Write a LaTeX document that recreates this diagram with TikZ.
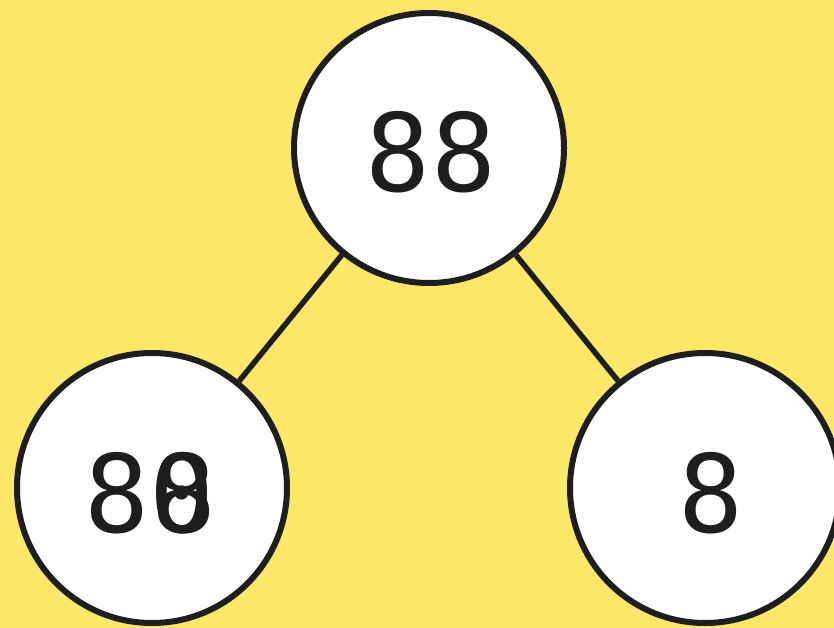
\documentclass[tikz,border=0pt]{standalone}
\usepackage{fontspec}
\newfontfamily\digitfont{DejaVu Sans Mono}
\definecolor{bgyellow}{HTML}{FDE767}
\definecolor{ink}{HTML}{1E1E1E}
\begin{document}
\begin{tikzpicture}[x=1pt,y=-1pt,
  circ/.style={circle,draw=ink,fill=white,line width=6pt,minimum size=270pt,inner sep=0pt},
  lbl/.style={text=ink,font=\digitfont\fontsize{108}{108}\selectfont,inner sep=0pt},
  edge/.style={draw=ink,line width=5.5pt}]
\fill[bgyellow] (0,0) rectangle (834,628);
\useasboundingbox (0,0) rectangle (834,628);
\node[circ] (top) at (429,148) {};
\node[circ] (left) at (152,488) {};
\node[circ] (right) at (705,488) {};
\draw[edge] (top) -- (left);
\draw[edge] (top) -- (right);
\node[lbl] (ttop) at (431,152) {88};
\node[lbl] (tleft) at (150,493) {80};
\node[lbl] (tleftb) at (184,493) {8};
\node[lbl] (tright) at (711,493) {8};
\end{tikzpicture}
\end{document}
